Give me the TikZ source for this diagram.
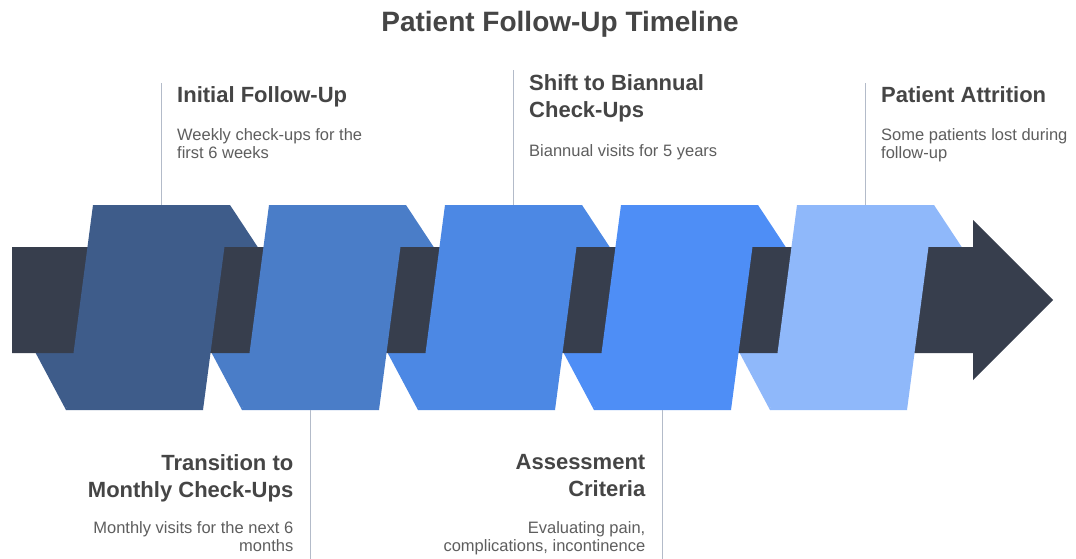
\documentclass[tikz,border=0pt]{standalone}
\usepackage{fontspec}
\setmainfont{Liberation Sans}
\definecolor{barc}{HTML}{373E4D}
\definecolor{blockA}{HTML}{3E5C8A}
\definecolor{blockB}{HTML}{4A7DC8}
\definecolor{blockC}{HTML}{4C88E4}
\definecolor{blockD}{HTML}{4E8EF6}
\definecolor{blockE}{HTML}{8FB8FA}
\definecolor{headc}{HTML}{454545}
\definecolor{descc}{HTML}{5E5E5E}
\definecolor{leadc}{HTML}{B3BBC9}
\begin{document}
\begin{tikzpicture}[x=1pt,y=-1pt,
  titletext/.style={font=\bfseries\fontsize{28}{34}\selectfont, text=headc, inner sep=0pt, anchor=base},
  headtext/.style={font=\bfseries\fontsize{22}{27}\selectfont, text=headc, inner sep=0pt},
  desctext/.style={font=\fontsize{16.5}{18.5}\selectfont, text=descc, inner sep=0pt},
  leader/.style={draw=leadc, line width=1pt},
  barshape/.style={fill=barc, draw=none}]
\useasboundingbox[fill=white] (0,0) rectangle (1076,559);

% folds of each ribbon segment (behind the bar)
\foreach \t/\c in {93/blockA, 269/blockB, 445/blockC, 621/blockD, 797/blockE}{
  \fill[\c] (\t+137,205) -- (\t+168,252) -- (\t+122,252) -- cycle;
  \fill[\c] (\t-27,410) -- (\t-60,348) -- (\t-12,348) -- cycle;
}

% the timeline arrow
\path[barshape] (12,247) -- (973,247) -- (973,220) -- (1053,300) -- (973,380)
  -- (973,353) -- (12,353) -- cycle;

% front faces of the segments
\foreach \t/\c in {93/blockA, 269/blockB, 445/blockC, 621/blockD, 797/blockE}{
  \fill[\c] (\t,205) -- (\t+137,205) -- (\t+110,410) -- (\t-27,410) -- cycle;
}

% anchor points of the leaders
\coordinate (b1) at (161.5,205);
\coordinate (b2) at (310.5,410);
\coordinate (b3) at (513.5,205);
\coordinate (b4) at (662.5,410);
\coordinate (b5) at (865.5,205);
\coordinate (t1) at (161.5,83);
\coordinate (t2) at (310.5,559);
\coordinate (t3) at (513.5,70);
\coordinate (t4) at (662.5,559);
\coordinate (t5) at (865.5,83);

\draw[leader] (b1) -- (t1);
\draw[leader] (b2) -- (t2);
\draw[leader] (b3) -- (t3);
\draw[leader] (b4) -- (t4);
\draw[leader] (b5) -- (t5);

% title
\node[titletext] (title) at (560,31.5) {Patient Follow-Up Timeline};

% labels above the arrow
\node[headtext, anchor=north west, align=left] (h1) at (177,86) {Initial Follow-Up};
\node[desctext, anchor=north west, align=left] (d1) at (177,128) {Weekly check-ups for the\\first 6 weeks};

\node[headtext, anchor=north west, align=left] (h3) at (529,74) {Shift to Biannual\\Check-Ups};
\node[desctext, anchor=north west, align=left] (d3) at (529,144) {Biannual visits for 5 years};

\node[headtext, anchor=north west, align=left] (h5) at (881,86) {Patient Attrition};
\node[desctext, anchor=north west, align=left] (d5) at (881,128) {Some patients lost during\\follow-up};

% labels below the arrow
\node[headtext, anchor=north east, align=right] (h2) at (293.5,454) {Transition to\\Monthly Check-Ups};
\node[desctext, anchor=north east, align=right] (d2) at (293.5,521) {Monthly visits for the next 6\\months};

\node[headtext, anchor=north east, align=right] (h4) at (645.5,454) {Assessment\\Criteria};
\node[desctext, anchor=north east, align=right] (d4) at (645.5,521) {Evaluating pain,\\complications, incontinence};
\end{tikzpicture}
\end{document}
